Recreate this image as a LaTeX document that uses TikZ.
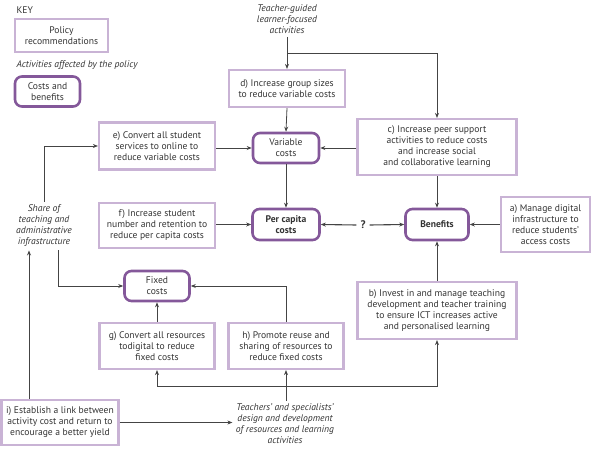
\documentclass[tikz,border=0pt]{standalone}
\usepackage{fontspec}
\setmainfont{PT Sans}
\usetikzlibrary{arrows.meta}
\definecolor{lightpurple}{HTML}{C9B3D5}
\definecolor{darkpurple}{HTML}{84589A}
\definecolor{txt}{HTML}{333333}
\definecolor{lncol}{HTML}{444444}
\begin{document}
\begin{tikzpicture}[x=1pt,y=-1pt,
 font=\fontsize{9.6}{11}\selectfont, text=txt,
 policy/.style={draw=lightpurple, line width=2.2pt, align=center, inner sep=2pt},
 cost/.style={draw=darkpurple, line width=2.6pt, rounded corners=7pt, align=center, inner sep=2pt},
 note/.style={align=center, font=\fontsize{9.6}{11}\selectfont\itshape},
 arr/.style={draw=lncol, line width=0.8pt, -{Stealth[length=5pt,width=4pt]}}]
\useasboundingbox (0,0) rectangle (598,450);

% key
\node[anchor=west] (key) at (13,10) {KEY};
\node[policy, minimum width=93pt, minimum height=33pt] (kp) at (61.5,35.5) {Policy\\recommendations};
\node[note, anchor=west] (ka) at (13,65) {Activities affected by the policy};
\node[cost, minimum width=65pt, minimum height=30pt] (kc) at (47.5,91.5) {Costs and\\benefits};

% nodes
\node[note] (tg) at (287,19) {Teacher-guided\\learner-focused\\activities};
\node[policy, minimum width=116pt, minimum height=37pt] (d) at (287,88.5) {d) Increase group sizes\\to reduce variable costs};
\node[cost, minimum width=66pt, minimum height=30pt] (var) at (286,148) {Variable\\costs};
\node[policy, minimum width=116pt, minimum height=47pt] (e) at (157,146) {e) Convert all student\\services to online to\\reduce variable costs};
\node[policy, minimum width=159pt, minimum height=56pt] (c) at (437,147) {c) Increase peer support\\activities to reduce costs\\and increase social\\and collaborative learning};
\node[cost, font=\fontsize{9.6}{11}\selectfont\bfseries, minimum width=67pt, minimum height=31pt] (pc) at (286,224.5) {Per capita\\costs};
\node[policy, minimum width=116pt, minimum height=45pt] (f) at (157,225.5) {f) Increase student\\number and retention to\\reduce per capita costs};
\node[cost, font=\fontsize{9.6}{11}\selectfont\bfseries, minimum width=63pt, minimum height=31pt] (ben) at (437,224.5) {Benefits};
\node[font=\fontsize{11}{13}\selectfont\bfseries, inner sep=4pt] (q) at (363,225) {?};
\node[policy, minimum width=89pt, minimum height=55pt] (a) at (545.5,224.5) {a) Manage digital\\infrastructure to\\reduce students'\\access costs};
\node[policy, minimum width=159pt, minimum height=57pt] (b) at (437,310.5) {b) Invest in and manage teaching\\development and teacher training\\to ensure ICT increases active\\and personalised learning};
\node[cost, minimum width=65pt, minimum height=30pt] (fix) at (157,286) {Fixed\\costs};
\node[policy, minimum width=115pt, minimum height=46pt] (g) at (157,346) {g) Convert all resources\\todigital to reduce\\fixed costs};
\node[policy, minimum width=115pt, minimum height=46pt] (h) at (286,346) {h) Promote reuse and\\sharing of resources to\\reduce fixed costs};
\node[policy, minimum width=117pt, minimum height=45pt] (i) at (60,422.5) {i) Establish a link between\\activity cost and return to\\encourage a better yield};
\node[note] (tsd) at (285,424) {Teachers' and specialists'\\design and development\\of resources and learning\\activities};
\node[note] (sh) at (44,226) {Share of\\teaching and\\administrative\\infrastructure};

% connectors
\coordinate (j1) at (287,53);
\draw[arr] (tg.south) -- (d.north);
\draw[arr] (j1) -| (c.north);
\draw[arr] (d.south) -- (var.north);
\draw[arr] (e.east |- var.west) -- (var.west);
\draw[arr] (c.west |- var.east) -- (var.east);
\draw[arr] (var.south) -- (pc.north);
\draw[arr] (f.east |- pc.west) -- (pc.west);
\draw[arr, line width=1.1pt] (q.west) -- (pc.east);
\draw[arr, line width=1.1pt] (q.east) -- (ben.west);
\draw[arr] (c.south) -- (ben.north);
\draw[arr] (a.west) -- (ben.east);
\draw[arr] (b.north) -- (ben.south);
\draw[arr] (sh.north) |- (e.west);
\coordinate (s2) at ([xshift=14pt]sh.south);
\draw[arr] (s2) |- (fix.west);
\coordinate (i1) at ([xshift=-31pt]i.north);
\draw[arr] (i1) -- (i1 |- sh.south);
\draw[arr] (i.east) -- (i.east -| tsd.west);
\draw[arr] (h.south |- tsd.north) -- (h.south);
\coordinate (j2) at (286,386);
\draw[arr] (j2) -| (g.south);
\draw[arr] (j2) -| (b.south);
\draw[arr] (g.north) -- (fix.south);
\draw[arr] (h.north) |- (fix.east);
\end{tikzpicture}
\end{document}
